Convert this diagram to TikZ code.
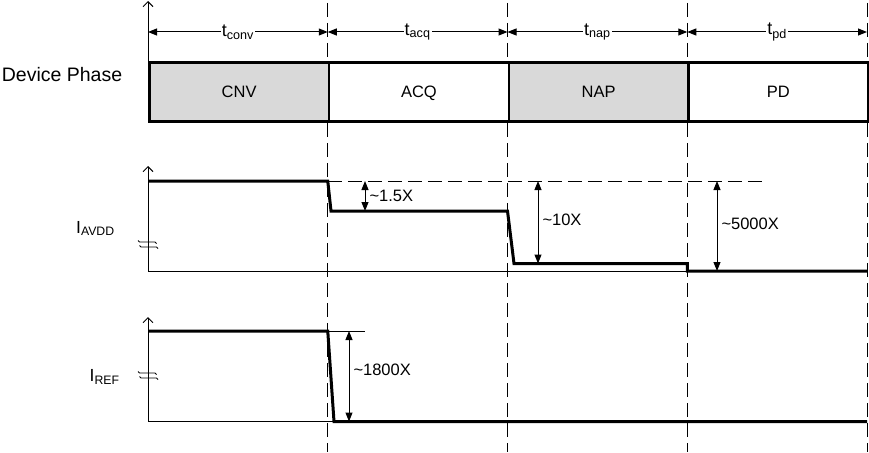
\documentclass[tikz,border=0pt]{standalone}
\usepackage{fontspec}
\setmainfont{Liberation Sans}
\usepackage{tikz}
\usetikzlibrary{arrows.meta, positioning, calc}
\definecolor{phasegray}{HTML}{D9D9D9}

\tikzset{
  phasebox/.style={draw, line width=2.5pt, minimum width=179.75pt, minimum height=59pt, inner sep=0pt, text height=12pt, text depth=0pt, font=\fontsize{16.5}{19}\selectfont},
  guide/.style={line width=0.9pt, dash pattern=on 14pt off 6pt},
  axis/.style={line width=1pt, {Straight Barb[length=5pt,width=10pt]}-},
  signal/.style={line width=3pt, line join=miter},
  dimarrow/.style={line width=1pt, {Triangle[length=9pt,width=7pt]}-{Triangle[length=9pt,width=7pt]}},
  lbl/.style={font=\fontsize{16.5}{19}\selectfont, inner sep=0pt},
  tlabel/.style={lbl, font=\fontsize{18}{21}\selectfont, fill=white, inner sep=1pt},
  xlabel/.style={lbl, right, inner sep=4pt},
  breakline/.style={line width=0.9pt},
}
% axis break mark, centred on the axis
\newcommand{\axisbreak}[2]{%
  \draw[breakline] (#1-10,#2-4.5) -- (#1-8.5,#2-3) -- (#1+7,#2-3) -- (#1+8.5,#2-1.5);
  \draw[breakline] (#1-8.5,#2+0.5) -- (#1-7,#2+2) -- (#1+8.5,#2+2) -- (#1+10,#2+3.5);
}

\begin{document}
\begin{tikzpicture}[x=1pt,y=-1pt]
\useasboundingbox (0,0) rectangle (869,452);

% time marks
\foreach \i in {0,...,4}
  \coordinate (t\i) at ({148+\i*179.75},32);

% dashed phase borders
\foreach \i in {1,...,4}
  \draw[guide] ({148+\i*179.75},3) -- ({148+\i*179.75},452);

% device phase row
\draw[axis] (148,1) -- (148,61);
\foreach \i/\nm/\txt/\col in {0/cnv/CNV/phasegray, 1/acq/ACQ/white, 2/nap/NAP/phasegray, 3/pd/PD/white}
  \node[phasebox, fill=\col, anchor=north west] (\nm) at ({148+\i*179.75},61) {\txt};
\node[font=\fontsize{19.5}{23}\selectfont] (devphase) at (62,75) {Device Phase};
\foreach \a/\b/\sub in {0/1/conv, 1/2/acq, 2/3/nap, 3/4/pd}
  \draw[dimarrow] (t\a) -- node[tlabel] {t\textsubscript{\sub}} (t\b);

% I_AVDD
\node[lbl, font=\fontsize{17.5}{20}\selectfont, anchor=base west] (iavdd) at (76,233.3) {I\textsubscript{AVDD}};
\draw[axis] (148,166) -- (148,271) -- (867,271);
\axisbreak{148}{245}
\coordinate (avddhi) at (148,181);
\coordinate (avddref) at (766,181);
\draw[guide] (327.75,181) -- (avddref);
\draw[signal] (avddhi) -- (327.75,181) -- (331,211) -- (507.5,211) -- (514,263.5) -- (687.25,263.5) -- (687.25,271) -- (867,271);
\draw[dimarrow] (365,181) -- node[xlabel, midway] (ratioacq) {\textasciitilde1.5X} (365,211);
\draw[dimarrow] (538,181) -- node[xlabel, pos=0.47] (rationap) {\textasciitilde10X} (538,263.5);
\draw[dimarrow] (717,181) -- node[xlabel, pos=0.48] (ratiopd) {\textasciitilde5000X} (717,271);

% I_REF
\node[lbl, font=\fontsize{17.5}{20}\selectfont, anchor=base west] (iref) at (89.5,381.7) {I\textsubscript{REF}};
\draw[axis] (148,317) -- (148,421.5) -- (867,421.5);
\axisbreak{148}{376}
\coordinate (refhi) at (148,331);
\draw[line width=1pt] (327.75,331) -- (365,331);
\draw[signal] (refhi) -- (327.75,331) -- (334,421.5) -- (867,421.5);
\draw[dimarrow] (349,331) -- node[xlabel, pos=0.43] (ratioref) {\textasciitilde1800X} (349,421.5);
\end{tikzpicture}
\end{document}
